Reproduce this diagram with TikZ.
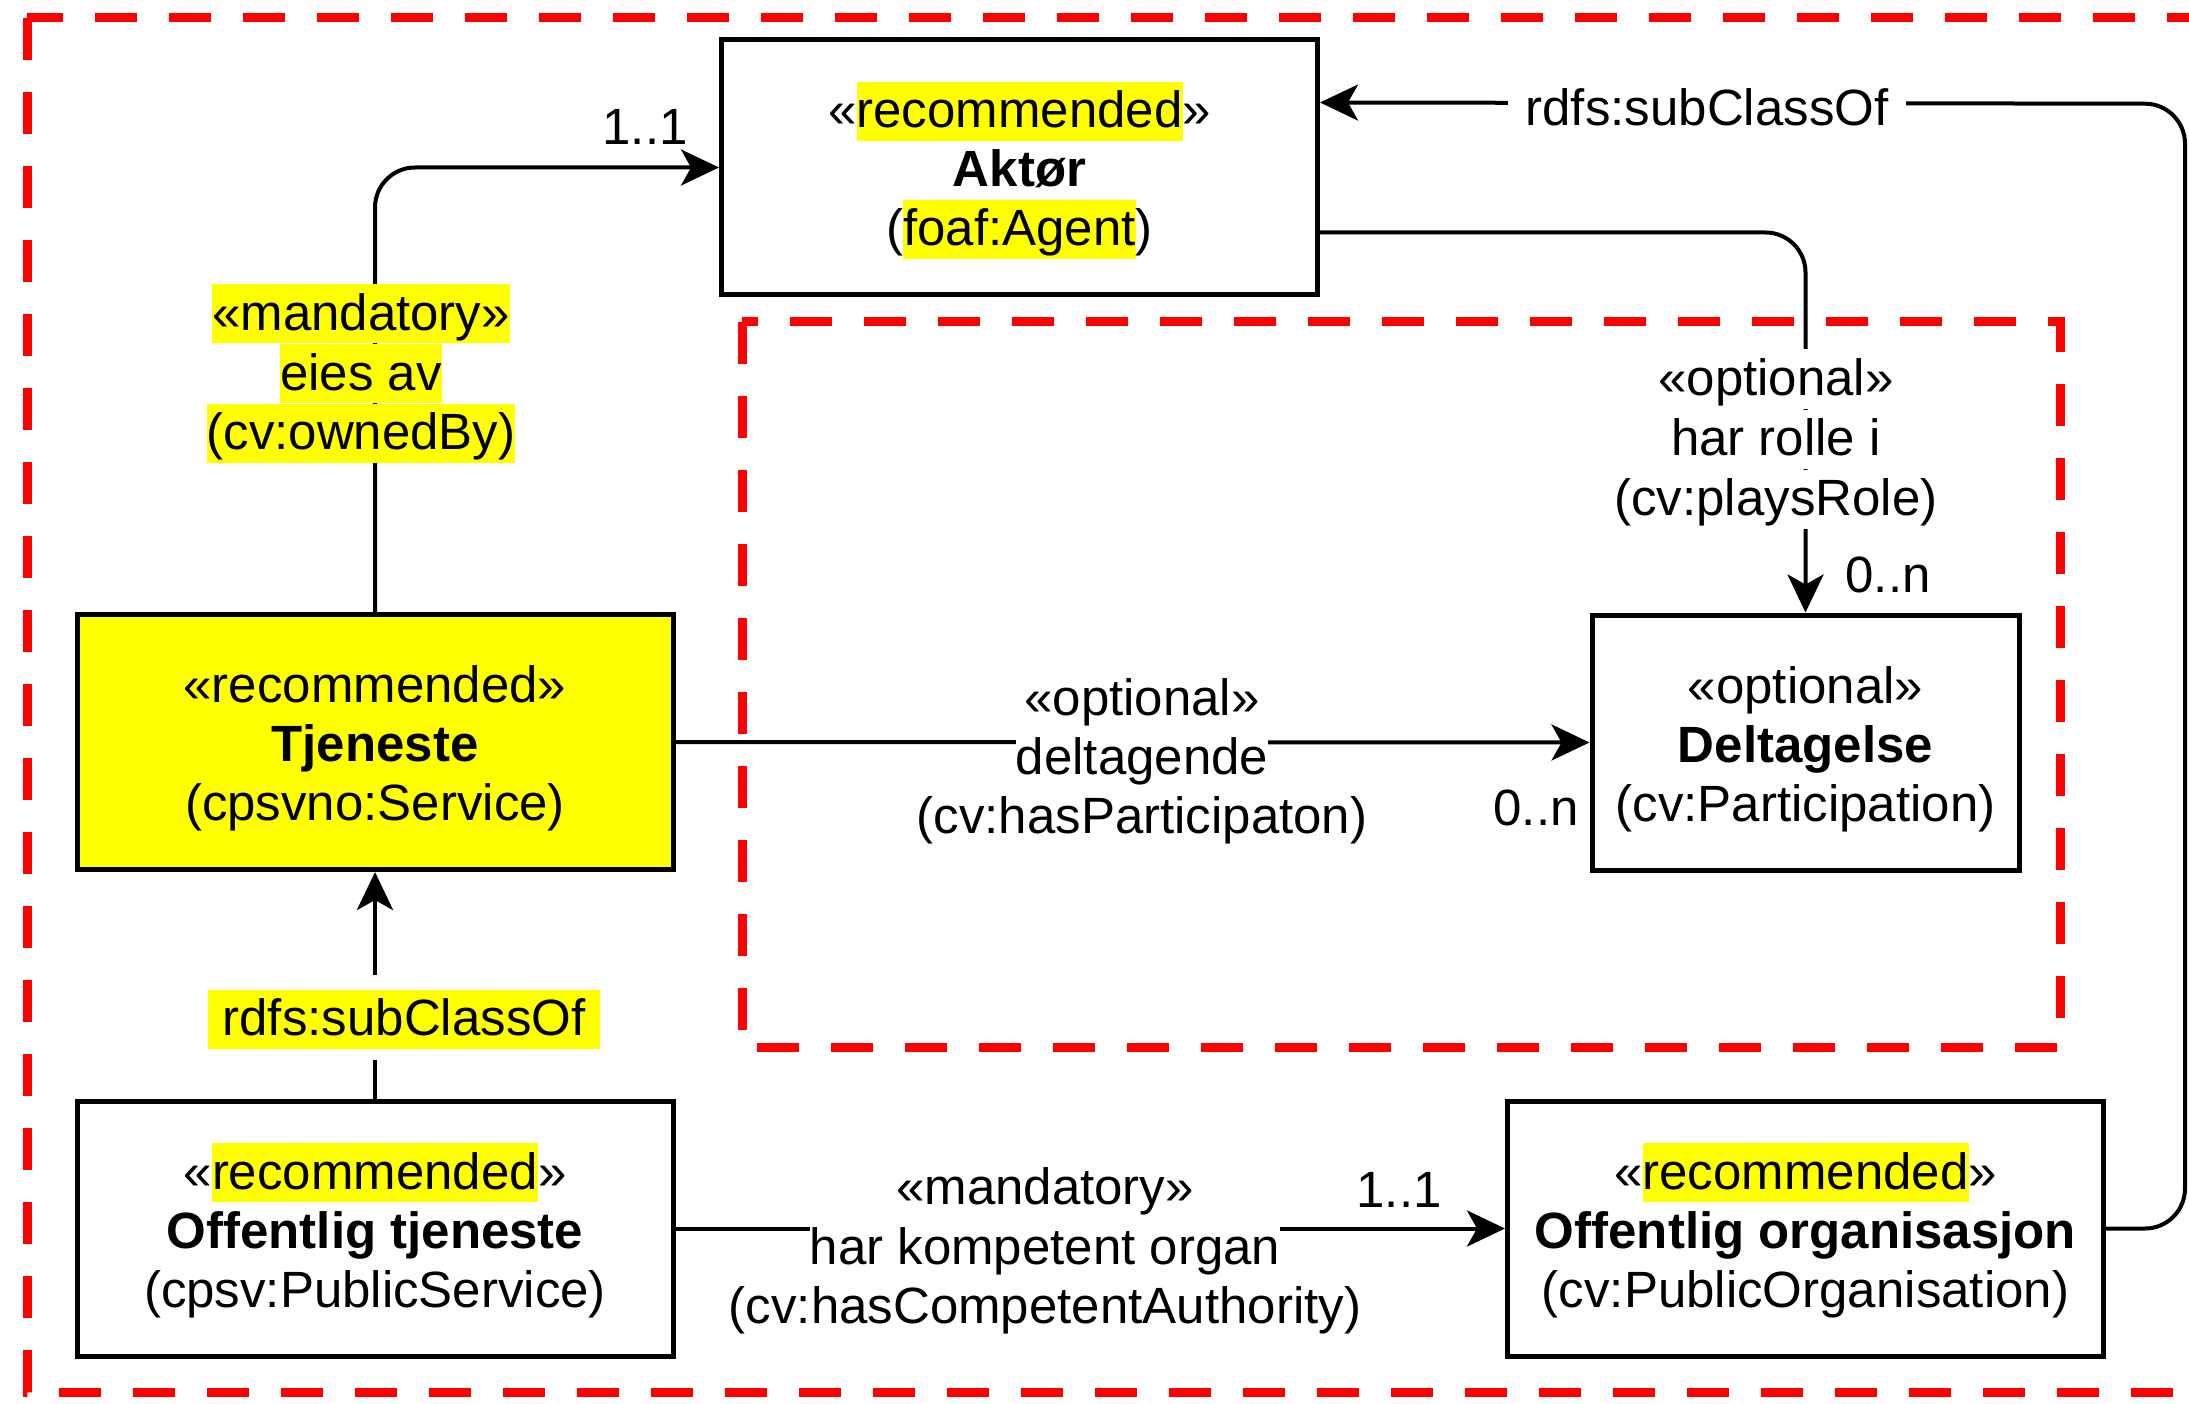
\documentclass[tikz,border=0pt]{standalone}
\usepackage{fontspec}
\setmainfont{Liberation Sans}
\usetikzlibrary{arrows.meta,calc}
\definecolor{hly}{RGB}{255,255,0}
\definecolor{rdash}{RGB}{255,0,0}
\newcommand{\lstrut}{\rule[-13pt]{0pt}{59pt}}
\newcommand{\fstrut}{\rule[-13pt]{0pt}{65pt}}
\newcommand{\hlt}[1]{{\setlength{\fboxsep}{0pt}\colorbox{hly}{\lstrut#1}}}
\begin{document}
\begin{tikzpicture}[x=1pt,y=-1pt,
  box/.style={draw=black, line width=5pt, minimum width=596pt, minimum height=255pt, inner sep=0pt, align=center, font=\fontsize{51pt}{59pt}\selectfont, fill=white},
  conn/.style={line width=4pt, rounded corners=40pt, -{Stealth[length=38pt,width=36pt,inset=10pt]}},
  lbl/.style={inner xsep=0pt, inner ysep=0pt, text height=46pt, text depth=13pt, font=\fontsize{51pt}{59pt}\selectfont},
  wl/.style={lbl, fill=white},
  yl/.style={lbl, fill=hly},
  region/.style={draw=rdash, line width=9pt, dash pattern=on 42pt off 32pt}
]
\useasboundingbox (0,0) rectangle (2189,1404);
\clip (0,0) rectangle (2189,1404);
% regions
\draw[region] (27,18) rectangle (2260,1392);
\draw[region] (742,322) rectangle (2060,1047);
% classes
\node[box] (ak) at (1019.5,167.5) {\fstrut«\hlt{recommended}»\\\lstrut\textbf{Aktør}\\\lstrut(\hlt{foaf:Agent})};
\node[box, fill=hly] (tj) at (375,742) {\fstrut«recommended»\\\lstrut\textbf{Tjeneste}\\\lstrut(cpsvno:Service)};
\node[box, minimum width=427pt] (del) at (1805.5,742.5) {\fstrut«optional»\\\lstrut\textbf{Deltagelse}\\\lstrut(cv:Participation)};
\node[box] (ot) at (375,1228.5) {\fstrut«\hlt{recommended}»\\\lstrut\textbf{Offentlig tjeneste}\\\lstrut(cpsv:PublicService)};
\node[box] (org) at (1805.5,1228.5) {\fstrut«\hlt{recommended}»\\\lstrut\textbf{Offentlig organisasjon}\\\lstrut(cv:PublicOrganisation)};
% helper coordinates
\coordinate (akR) at ($(ak.north east)!0.25!(ak.south east)$);
\coordinate (akS) at ($(ak.north east)!0.75!(ak.south east)$);
\coordinate (rc) at (2185,103.75);
% connectors
\draw[conn] (tj.north) |- (ak.west);
\draw[conn] (akS) -| (del.north);
\draw[conn] (tj.east) -- (del.west);
\draw[conn] (ot.north) -- (tj.south);
\draw[conn] (ot.east) -- (org.west);
\draw[conn] (org.east) -| (rc) -- (akR);
% labels
\node[yl] (m1) at (361,314) {«mandatory»};
\node[yl] (m2) at (361,373.5) {eies av};
\node[yl] (m3) at (361,433) {(cv:ownedBy)};
\node[lbl] (c1) at (645,128.5) {1..1};
\node[wl, inner xsep=18pt] (sc1) at (1707,109) {rdfs:subClassOf};
\node[wl] (r1) at (1776,379) {«optional»};
\node[wl] (r2) at (1776,439) {har rolle i};
\node[wl] (r3) at (1776,499) {(cv:playsRole)};
\node[lbl] (c2) at (1888,575.5) {0..n};
\node[wl] (p1) at (1142,699) {«optional»};
\node[wl] (p2) at (1142,758) {deltagende};
\node[wl] (p3) at (1142,817) {(cv:hasParticipaton)};
\node[lbl] (c3) at (1536,808.5) {0..n};
\node[fill=white, minimum width=420pt, minimum height=85pt, inner sep=0pt] (sw) at (404,1017.5) {};
\node[yl, inner xsep=15pt] (sc2) at (404,1019) {rdfs:subClassOf};
\node[wl] (k1) at (1045,1188) {«mandatory»};
\node[wl] (k2) at (1045,1247.5) {har kompetent organ};
\node[wl] (k3) at (1045,1307) {(cv:hasCompetentAuthority)};
\node[lbl] (c4) at (1399,1190.5) {1..1};
\end{tikzpicture}
\end{document}
